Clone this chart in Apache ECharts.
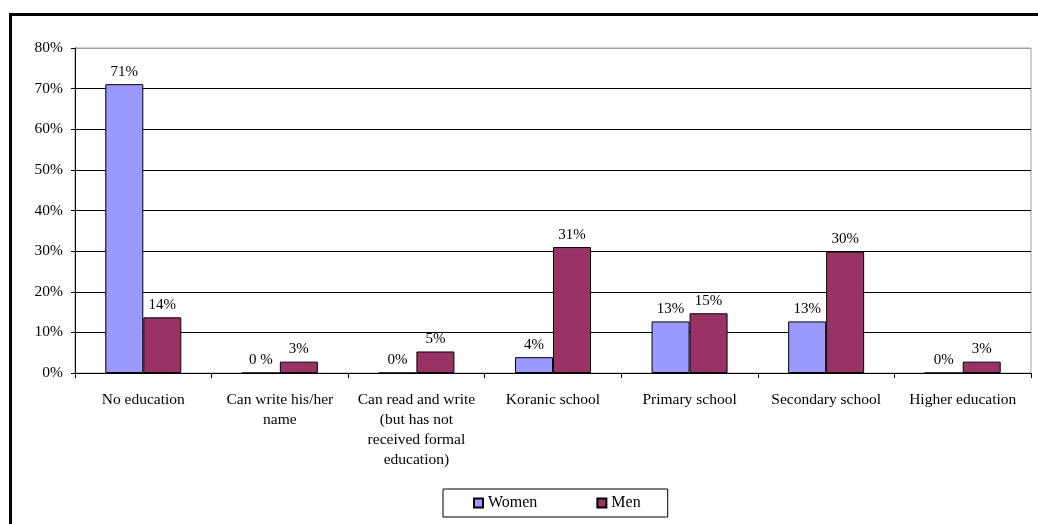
<!DOCTYPE html>
<html>
<head>
<meta charset="utf-8">
<script src="https://cdn.jsdelivr.net/npm/echarts@6/dist/echarts.min.js"></script>
<style>
html,body{margin:0;padding:0;background:#fff;}
#chart{width:1038px;height:524px;}
</style>
</head>
<body>
<div id="chart"></div>
<script>
const categories = ['No education', 'Can write his/her\nname', 'Can read and write\n(but has not\nreceived formal\neducation)', 'Koranic school', 'Primary school', 'Secondary school', 'Higher education'];
const women = [71.1, 0, 0, 3.9, 12.7, 12.7, 0];
const men = [13.7, 2.8, 5.3, 31.0, 14.7, 29.9, 2.8];
const womenLabels = ['71%', '0 %', '0%', '4%', '13%', '13%', '0%'];
const menLabels = ['14%', '3%', '5%', '31%', '15%', '30%', '3%'];
const seriesNames = ['Women', 'Men'];

const font = 'Liberation Serif, Times New Roman, serif';
const chart = echarts.init(document.getElementById('chart'));
chart.setOption({
  animation: false,
  backgroundColor: '#fff',
  textStyle: { fontFamily: font, color: '#000' },
  grid: { left: 75, right: 7, top: 48, bottom: 151, show: true, borderColor: '#a0a0a0', borderWidth: 1, backgroundColor: 'transparent' },
  legend: {
    data: seriesNames,
    left: 443, top: 489,
    orient: 'horizontal',
    padding: [6, 27, 6, 30],
    itemWidth: 9, itemHeight: 9, itemGap: 59,
    borderColor: '#000', borderWidth: 1,
    icon: 'rect',
    textStyle: { fontFamily: font, fontSize: 16, color: '#000', padding: [6, 0, 0, 0] }
  },
  xAxis: {
    type: 'category',
    data: categories,
    axisLine: { lineStyle: { color: '#000', width: 1 } },
    axisTick: { show: true, length: 5, lineStyle: { color: '#000' } },
    axisLabel: { interval: 0, fontFamily: font, fontSize: 15.5, color: '#000', margin: 17, lineHeight: 20 }
  },
  yAxis: {
    type: 'value', min: 0, max: 80, interval: 10,
    axisLine: { show: true, lineStyle: { color: '#000' } },
    axisTick: { show: true, length: 4, lineStyle: { color: '#000' } },
    axisLabel: { formatter: '{value}%', fontFamily: font, fontSize: 15.5, color: '#000', margin: 12 },
    splitLine: { show: true, lineStyle: { color: ['#000', '#000', '#000', '#000', '#000', '#000', '#000', '#000', '#a0a0a0'], width: 1 } }
  },
  series: [
    {
      name: 'Women', type: 'bar', data: women, barWidth: 38, barGap: '0%',
      itemStyle: { color: '#9999ff', borderColor: '#000', borderWidth: 1 },
      label: { show: true, position: 'top', distance: 5, fontFamily: font, fontSize: 15, color: '#000', formatter: p => womenLabels[p.dataIndex] }
    },
    {
      name: 'Men', type: 'bar', data: men, barWidth: 38, barGap: '0%',
      itemStyle: { color: '#993366', borderColor: '#000', borderWidth: 1 },
      label: { show: true, position: 'top', distance: 5, fontFamily: font, fontSize: 15, color: '#000', formatter: p => menLabels[p.dataIndex] }
    }
  ],
  graphic: [
    { type: 'line', shape: { x1: 9, y1: 14.5, x2: 1038, y2: 14.5 }, style: { stroke: '#000', lineWidth: 3 } },
    { type: 'line', shape: { x1: 10.5, y1: 13, x2: 10.5, y2: 524 }, style: { stroke: '#000', lineWidth: 3 } }
  ]
});
</script>
</body>
</html>
